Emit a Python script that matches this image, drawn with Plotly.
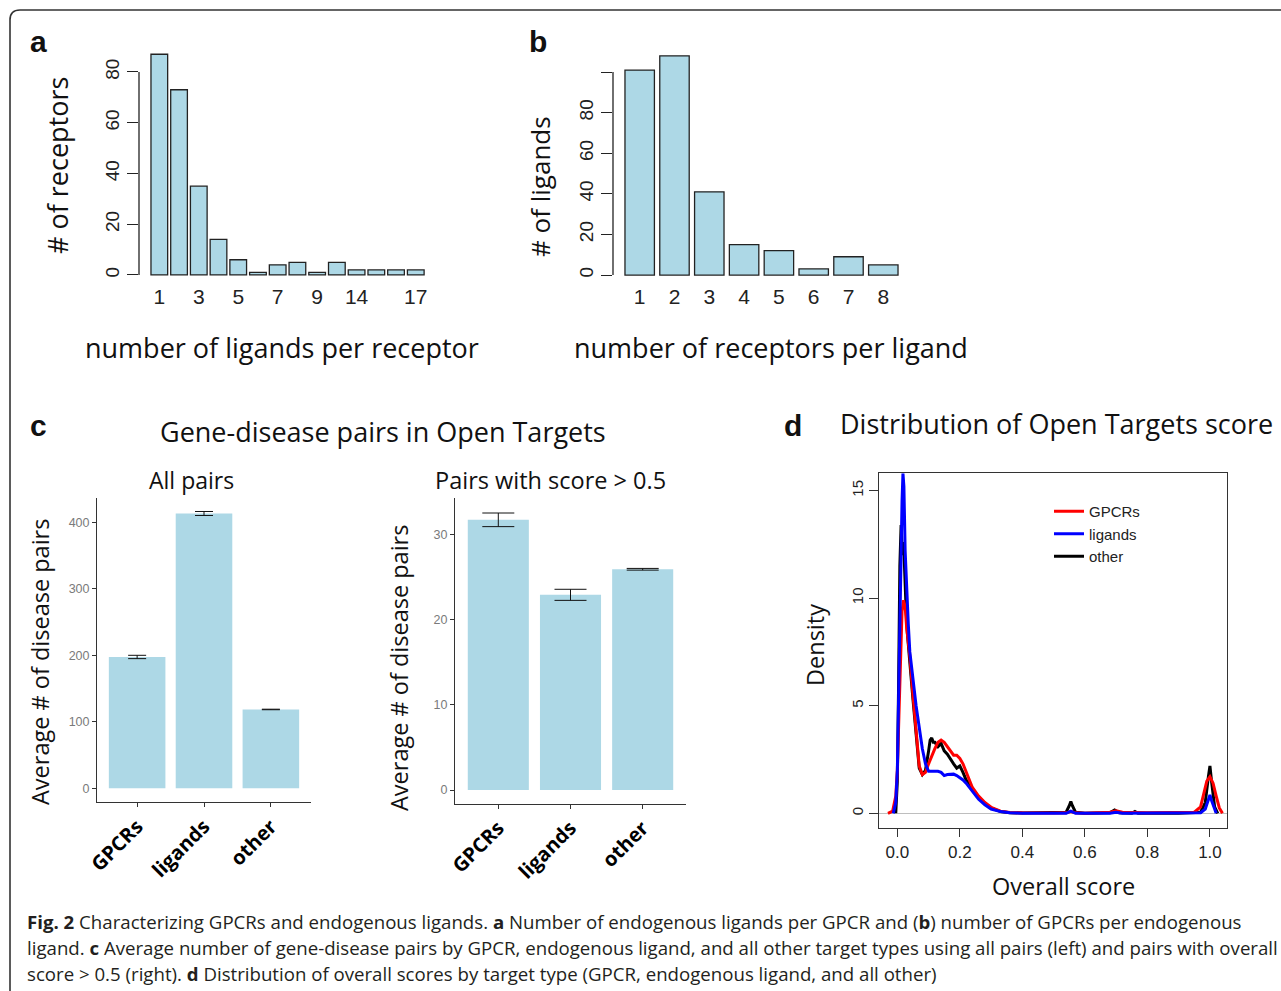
import plotly.graph_objects as go

W, H = 1281, 991
def X(px): return px / W
def Y(py): return 1 - py / H

# ---------------- data ----------------
# Panel a: number of ligands per receptor
a_cats = ["1", "2", "3", "4", "5", "6", "7", "8", "9", "10", "14", "15", "16", "17"]
a_vals = [87, 73, 35, 14, 6, 1, 4, 5, 1, 5, 2, 2, 2, 2]
a_ticks = ["1", "3", "5", "7", "9", "14", "17"]
a_yticks = [0, 20, 40, 60, 80]

# Panel b: number of receptors per ligand
b_cats = ["1", "2", "3", "4", "5", "6", "7", "8"]
b_vals = [101, 108, 41, 15, 12, 3, 9, 5]
b_yticks = [0, 20, 40, 60, 80, 100]
b_yticktext = ["0", "20", "40", "60", "80", ""]

# Panel c: average # of disease pairs
c_groups = ["GPCRs", "ligands", "other"]
c_all = [197.5, 413.5, 118.5]
c_all_err = [2.5, 3.0, 0.4]
c_hi = [31.7, 22.9, 25.9]
c_hi_err = [0.8, 0.65, 0.1]

# Panel d: density of overall score
gpcr_x = [-0.03, -0.015, -0.005, 0.0, 0.005, 0.01, 0.015, 0.02, 0.025, 0.03, 0.035, 0.04, 0.05, 0.06,
          0.07, 0.08, 0.09, 0.10, 0.11, 0.12, 0.13, 0.14, 0.15, 0.16, 0.17, 0.18, 0.19, 0.20, 0.21,
          0.22, 0.23, 0.24, 0.26, 0.28, 0.30, 0.33, 0.36, 0.40, 0.50, 0.54, 0.555, 0.57, 0.60, 0.68,
          0.70, 0.72, 0.80, 0.90, 0.95, 0.97, 0.98, 0.99, 1.0, 1.01, 1.02, 1.03, 1.04]
gpcr_y = [0, 0.1, 0.8, 2.0, 4.5, 7.5, 9.4, 9.9, 9.6, 8.6, 8.0, 7.3, 5.5, 3.8,
          2.2, 1.8, 1.9, 2.3, 2.7, 3.0, 3.3, 3.4, 3.3, 3.1, 2.85, 2.7, 2.7, 2.55, 2.3,
          1.9, 1.5, 1.2, 0.8, 0.5, 0.28, 0.1, 0.04, 0.02, 0.01, 0.02, 0.08, 0.02, 0.0, 0.05,
          0.12, 0.05, 0.02, 0.03, 0.05, 0.3, 0.9, 1.5, 1.7, 1.4, 0.8, 0.25, 0.0]

lig_x = [-0.013, -0.005, 0.0, 0.005, 0.01, 0.015, 0.018, 0.021, 0.025, 0.03, 0.035, 0.04, 0.05, 0.06,
         0.07, 0.08, 0.09, 0.10, 0.11, 0.12, 0.13, 0.14, 0.15, 0.16, 0.17, 0.18, 0.19, 0.20, 0.21,
         0.22, 0.24, 0.26, 0.28, 0.30, 0.33, 0.36, 0.40, 0.45, 0.54, 0.555, 0.57, 0.68, 0.70, 0.72,
         0.90, 0.97, 0.985, 0.995, 1.0, 1.005, 1.015, 1.02]
lig_y = [0, 0.5, 2.0, 6.5, 11.0, 14.5, 15.8, 15.2, 12.2, 10.0, 8.8, 7.5, 6.2, 5.0,
         4.0, 3.0, 2.3, 1.95, 1.95, 1.95, 1.95, 1.9, 1.75, 1.8, 1.82, 1.82, 1.75, 1.65, 1.55,
         1.4, 1.0, 0.65, 0.4, 0.2, 0.08, 0.03, 0.0, 0.0, 0.0, 0.1, 0.0, 0.0, 0.05, 0.0,
         0.0, 0.02, 0.2, 0.7, 0.85, 0.6, 0.15, 0.0]

oth_x = [-0.005, 0.0, 0.004, 0.008, 0.012, 0.016, 0.02, 0.024, 0.028, 0.032, 0.036, 0.04, 0.05, 0.06,
         0.07, 0.08, 0.09, 0.10, 0.105, 0.11, 0.115, 0.12, 0.13, 0.14, 0.15, 0.16, 0.17, 0.18, 0.19,
         0.20, 0.21, 0.22, 0.24, 0.26, 0.28, 0.30, 0.33, 0.36, 0.40, 0.50, 0.54, 0.55, 0.555, 0.56,
         0.57, 0.60, 0.68, 0.695, 0.71, 0.75, 0.76, 0.77, 0.90, 0.97, 0.985, 0.995, 1.0, 1.005,
         1.015, 1.025]
oth_y = [0, 1.5, 6.0, 11.5, 13.4, 12.0, 12.6, 10.5, 9.5, 8.4, 7.8, 7.0, 5.3, 3.6,
         2.1, 1.8, 2.0, 2.9, 3.4, 3.5, 3.3, 3.3, 3.1, 3.25, 2.9, 2.75, 2.5, 2.3, 2.1,
         2.2, 1.9, 1.55, 1.15, 0.75, 0.45, 0.25, 0.08, 0.03, 0.01, 0.02, 0.05, 0.35, 0.55, 0.35,
         0.05, 0.0, 0.02, 0.15, 0.02, 0.0, 0.08, 0.0, 0.0, 0.05, 0.5, 1.7, 2.2, 1.5,
         0.3, 0.0]
d_xticks = [0.0, 0.2, 0.4, 0.6, 0.8, 1.0]
d_xticktext = ["0.0", "0.2", "0.4", "0.6", "0.8", "1.0"]
d_yticks = [0, 5, 10, 15]

# ---------------- styles ----------------
BAR_FILL = "#ADD8E6"
INK = "#222222"
RFONT = "Liberation Sans"
TFONT = "Open Sans"

fig = go.Figure()

fig.add_trace(go.Bar(x=a_cats, y=a_vals, xaxis="x", yaxis="y", showlegend=False,
                     marker=dict(color=BAR_FILL, line=dict(color=INK, width=1.3))))
fig.add_trace(go.Bar(x=b_cats, y=b_vals, xaxis="x2", yaxis="y2", showlegend=False,
                     marker=dict(color=BAR_FILL, line=dict(color=INK, width=1.3))))
fig.add_trace(go.Bar(x=c_groups, y=c_all, xaxis="x3", yaxis="y3", showlegend=False,
                     marker=dict(color=BAR_FILL, line=dict(width=0)),
                     error_y=dict(type="data", array=c_all_err, color="#111", thickness=1, width=9)))
fig.add_trace(go.Bar(x=c_groups, y=c_hi, xaxis="x4", yaxis="y4", showlegend=False,
                     marker=dict(color=BAR_FILL, line=dict(width=0)),
                     error_y=dict(type="data", array=c_hi_err, color="#111", thickness=1, width=16)))
fig.add_trace(go.Scatter(x=oth_x, y=oth_y, mode="lines", name="other", legendrank=3,
                         line=dict(color="black", width=3), xaxis="x5", yaxis="y5"))
fig.add_trace(go.Scatter(x=gpcr_x, y=gpcr_y, mode="lines", name="GPCRs", legendrank=1,
                         line=dict(color="red", width=3), xaxis="x5", yaxis="y5"))
fig.add_trace(go.Scatter(x=lig_x, y=lig_y, mode="lines", name="ligands", legendrank=2,
                         line=dict(color="blue", width=3), xaxis="x5", yaxis="y5"))

common = dict(showgrid=False, zeroline=False, automargin=False)

r_xaxis = lambda dom, rng, anchor, ticks: dict(
    domain=dom, range=rng, type="category", anchor=anchor, showline=False, ticks="",
    ticklabelstandoff=-2, tickmode="array", tickvals=ticks, ticktext=ticks,
    tickfont=dict(family=RFONT, size=21, color=INK), **common)
r_yaxis = lambda dom, rng, anchor, tv, tt: dict(
    domain=dom, range=rng, anchor=anchor, showline=False, ticks="outside", ticklen=11,
    tickwidth=1.3, tickcolor=INK, tickmode="array", tickvals=tv, ticktext=tt, tickangle=-90,
    tickfont=dict(family=RFONT, size=19, color=INK), **common)

gg_x = lambda dom, anchor: dict(
    domain=dom, range=[-0.6, 2.6], type="category", anchor=anchor, showline=True,
    linecolor="#333", linewidth=1, ticks="outside", ticklen=4, tickcolor="#333", tickangle=-45,
    tickfont=dict(family=TFONT, size=20, color="black", weight="bold"), **common)
gg_y = lambda dom, rng, anchor, tv: dict(
    domain=dom, range=rng, anchor=anchor, showline=True, linecolor="#333", linewidth=1,
    ticks="outside", ticklen=4, tickcolor="#333", tickmode="array", tickvals=tv,
    tickfont=dict(family=RFONT, size=12.5, color="#7a7a7a"), **common)

fig.update_layout(
    width=W, height=H, margin=dict(l=0, r=0, t=0, b=0, pad=0, autoexpand=False),
    paper_bgcolor="white", plot_bgcolor="rgba(0,0,0,0)",
    bargap=0.154, hovermode=False,
    xaxis=r_xaxis([X(139), X(427.6)], [-1.03, 13.6], "y", a_ticks),
    yaxis=r_yaxis([Y(283.8), Y(45.4)], [-3.48, 90.48], "x", a_yticks, [str(v) for v in a_yticks]),
    xaxis2=r_xaxis([X(613), X(900.7)], [-0.767, 7.5], "y2", b_cats),
    yaxis2=r_yaxis([Y(283.8), Y(47.1)], [-4.32, 112.32], "x2", b_yticks, b_yticktext),
    xaxis3=gg_x([X(97), X(311)], "y3"),
    yaxis3=gg_y([Y(802), Y(498)], [-20.8, 436.8], "x3", [0, 100, 200, 300, 400]),
    xaxis4=gg_x([X(455), X(686)], "y4"),
    yaxis4=gg_y([Y(803.5), Y(498)], [-1.58, 34.26], "x4", [0, 10, 20, 30]),
    xaxis5=dict(domain=[X(879.3), X(1226.7)], range=[-0.0577, 1.0536], anchor="y5",
                showline=True, mirror=True, linecolor="#333", linewidth=1.2, ticks="outside",
                ticklen=8, tickcolor="#333", tickwidth=1.2, tickmode="array", tickvals=d_xticks,
                ticktext=d_xticktext, tickfont=dict(family=RFONT, size=17, color=INK),
                showgrid=False, zeroline=False, automargin=False),
    yaxis5=dict(domain=[Y(828.3), Y(473.3)], range=[-0.697, 15.8], anchor="x5",
                showline=True, mirror=True, linecolor="#333", linewidth=1.2, ticks="outside",
                ticklen=9, tickcolor="#333", tickwidth=1.2, tickmode="array", tickvals=d_yticks,
                tickangle=-90, tickfont=dict(family=RFONT, size=15, color=INK), automargin=False,
                showgrid=False, zeroline=True, zerolinecolor="#BEBEBE", zerolinewidth=1),
    legend=dict(x=X(1049), y=Y(495), xanchor="left", yanchor="top", bgcolor="rgba(0,0,0,0)",
                font=dict(family=RFONT, size=15, color=INK), tracegroupgap=0, itemwidth=30),
)

fig.add_shape(type="line", xref="x domain", yref="y", x0=0, x1=0, y0=0, y1=80,
              line=dict(color=INK, width=1.3))
fig.add_shape(type="line", xref="x2 domain", yref="y2", x0=0, x1=0, y0=0, y1=100,
              line=dict(color=INK, width=1.3))

path = (f"M {X(10)},{Y(995)} L {X(10)},{Y(20)} Q {X(10)},{Y(10)} {X(20)},{Y(10)} "
        f"L {X(1285)},{Y(10)}")
fig.add_shape(type="path", xref="paper", yref="paper", path=path,
              line=dict(color="#333", width=1.6))

def ann(text, px, py, size, family=TFONT, angle=0, color="#111", xanchor="center", bold=False):
    fig.add_annotation(text=text, x=X(px), y=Y(py), xref="paper", yref="paper",
                       showarrow=False, textangle=angle, xanchor=xanchor, yanchor="middle",
                       font=dict(family=family, size=size, color=color,
                                 weight="bold" if bold else "normal"))

ann("a", 38, 42, 30, family=RFONT, bold=True)
ann("b", 538, 42, 30, family=RFONT, bold=True)
ann("c", 38, 425, 30, family=RFONT, bold=True)
ann("d", 793, 425, 30, family=RFONT, bold=True)

ann("# of receptors", 57, 166, 27, angle=-90)
ann("number of ligands per receptor", 282, 347, 27)
ann("# of ligands", 540, 187, 26, angle=-90)
ann("number of receptors per ligand", 771, 347, 27)

ann("Gene-disease pairs in Open Targets", 383, 431, 27)
ann("All pairs", 191, 480, 23)
ann("Pairs with score > 0.5", 550, 480, 23.5)
ann("Average # of disease pairs", 40, 662, 23.5, angle=-90)
ann("Average # of disease pairs", 399, 668, 23.5, angle=-90)

ann("Distribution of Open Targets score", 1056, 423, 27)
ann("Density", 815, 645, 23.5, angle=-90)
ann("Overall score", 1063, 886, 23.5)

cap = "#231f20"
ann("<b>Fig. 2</b> Characterizing GPCRs and endogenous ligands. <b>a</b> Number of endogenous ligands "
    "per GPCR and (<b>b</b>) number of GPCRs per endogenous", 25, 921, 18.65, color=cap, xanchor="left")
ann("ligand. <b>c</b> Average number of gene-disease pairs by GPCR, endogenous ligand, and all other "
    "target types using all pairs (left) and pairs with overall", 25, 947, 18.65, color=cap, xanchor="left")
ann("score &gt; 0.5 (right). <b>d</b> Distribution of overall scores by target type (GPCR, endogenous "
    "ligand, and all other)", 25, 973, 18.65, color=cap, xanchor="left")

fig.write_html("out.html", config={"displayModeBar": False},
               post_script="document.body.style.margin='0';document.body.style.overflow='hidden';")
